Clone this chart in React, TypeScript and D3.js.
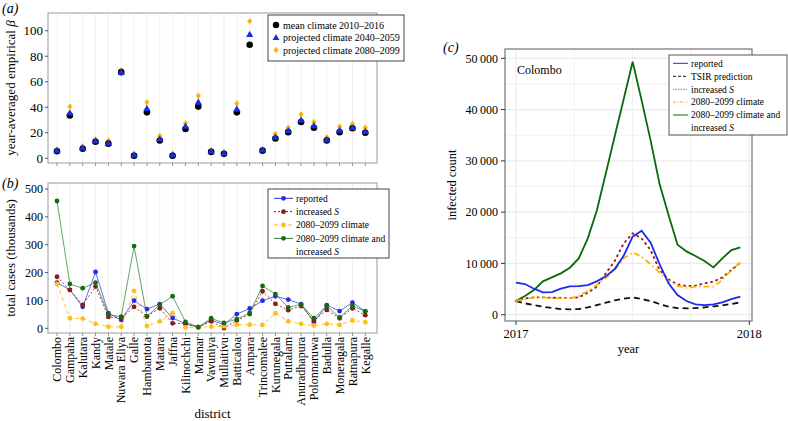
import React from "react";
import * as d3 from "d3";

const districts = ["Colombo","Gampaha","Kalutara","Kandy","Matale","Nuwara Eliya","Galle","Hambantota","Matara","Jaffna","Kilinochchi","Mannar","Vavuniya","Mullaitivu","Batticaloa","Ampara","Trincomalee","Kurunegala","Puttalam","Anuradhapura","Polonnaruwa","Badulla","Moneragala","Ratnapura","Kegalle"];

// panel (a): year-averaged empirical beta
const betaMean = [5.5,33.5,7.5,13,11.5,67.5,2,36,14,2,23,40.5,5,3.5,36,89,6,15.5,20.5,28.5,24,14,20.5,23.5,20];
const beta2040 = [6,35.5,8,13.5,12,67.5,2.5,39,15,2.5,25,44,5.5,4,38.5,97,6.5,16.5,21.5,30,25.5,14.5,22,24,21];
const beta2080 = [7,40.5,9.5,15,14,69,3.5,44,17.5,3.5,27.5,49,6,4.5,43,107.5,7,19,24,34.5,28.5,16.5,25,27,24];

// panel (b): total cases (thousands)
const casesReported = [164,138,77,202,54,30,99,69,87,37,16,4,30,13,51,71,99,115,103,87,22,83,62,92,61];
const casesIncS = [185,138,84,150,41,36,77,43,72,18,16,4,25,1,28,51,133,88,65,80,28,66,36,72,47];
const cases2080 = [159,36,35,16,6,5,134,8,25,54,3,4,6,7,13,13,12,54,25,16,10,16,12,28,22];
const cases2080S = [457,159,144,164,49,42,295,42,85,115,23,4,36,19,33,55,152,123,75,86,36,80,39,80,61];

// panel (c): Colombo, biweekly 2017
const weeks = d3.range(26).map((i) => 2017 + i / 26);
const cReported = [6240,5980,5070,4355,4420,5070,5525,5590,5785,6500,7475,8900,11500,15210,16380,14040,9880,6110,3835,2665,2015,1885,2015,2405,3055,3510];
const cTSIR = [2665,2210,1885,1560,1300,1105,1040,1105,1430,1885,2340,2795,3120,3380,3055,2665,2080,1560,1300,1235,1300,1430,1625,1820,2080,2405];
const cIncS = [2665,3185,3380,3380,3315,3315,3250,3380,4290,5460,8060,10465,13910,15860,14885,12610,8710,6890,5915,5590,5655,6110,6435,7280,8710,10140];
const c2080 = [2665,3055,3380,3380,3250,3185,3250,3640,4615,5785,7150,8710,10985,12155,11310,9880,8190,6630,5590,5265,5460,5460,5460,6760,8710,10205];
const c2080S = [2665,3640,4800,6500,7280,8060,9165,10985,14885,20280,27500,34800,42000,49335,41800,34000,25500,19435,13650,12350,11440,10465,9230,10985,12610,13130];

const betaTicks = [0,20,40,60,80,100];
const casesTicks = [0,100,200,300,400,500];
const countTicks = [0,10000,20000,30000,40000,50000];
const yearTicks = [2017,2018];

const FONT = "'Liberation Serif', 'DejaVu Serif', serif";
const BLUE = "#1f2fe6";
const RED = "#8b1010";
const ORANGE = "#ffb300";
const GREEN = "#2a8a2a";
const DGREEN = "#0a6a0a";

const fmt = (v: number) => (v >= 1000 ? d3.format(",")(v).replace(",", "\u2009") : String(v));

function Diamond({ x, y, r, fill }: { x: number; y: number; r: number; fill: string }) {
  return <path d={`M${x},${y - r}L${x + r * 0.8},${y}L${x},${y + r}L${x - r * 0.8},${y}Z`} fill={fill} />;
}

function Tri({ x, y, r, fill }: { x: number; y: number; r: number; fill: string }) {
  return <path d={`M${x},${y - r}L${x + r * 0.95},${y + r * 0.65}L${x - r * 0.95},${y + r * 0.65}Z`} fill={fill} />;
}

export default function App() {
  const xA = d3.scalePoint<string>().domain(districts).range([57, 365.3]);
  const yA = d3.scaleLinear().domain([0, 100]).range([158.3, 30.7]);
  const yB = d3.scaleLinear().domain([0, 500]).range([328.3, 189]);
  const xC = d3.scaleLinear().domain([2017, 2018]).range([516, 749.3]);
  const yC = d3.scaleLinear().domain([0, 50000]).range([314.7, 58.3]);

  const lineB = (vals: number[]) =>
    d3.line<number>().x((_, i) => xA(districts[i])!).y((v) => yB(v))(vals)!;
  const lineC = (vals: number[]) =>
    d3.line<number>().x((_, i) => xC(weeks[i])).y((v) => yC(v)).curve(d3.curveLinear)(vals)!;

  const A = { l: 48, t: 13, r: 377, b: 163 };
  const B = { l: 48, t: 183, r: 377, b: 333 };
  const C = { l: 505, t: 49, r: 752, b: 321 };

  const bSeries = [
    { vals: casesReported, color: BLUE, dash: "", mk: "#1f2fe6", op: 0.7 },
    { vals: casesIncS, color: RED, dash: "2,2", mk: "#8b1a1a", op: 0.8 },
    { vals: cases2080, color: ORANGE, dash: "4,3", mk: "#ffbf1a", op: 0.8 },
    { vals: cases2080S, color: GREEN, dash: "", mk: "#136b13", op: 0.75 },
  ];

  const minorC = d3.range(0, 52000, 5000);
  const quartersC = [2017, 2017.25, 2017.5, 2017.75, 2018];

  return (
    <svg width={788} height={421} style={{ display: "block", position: "absolute", left: 0, top: 0 }} fontFamily={FONT}>
      <rect width={788} height={421} fill="#fff" />

      {/* ---------- Panel (a) ---------- */}
      <text x={2} y={13} fontSize={14} fontStyle="italic">(a)</text>
      {districts.map((d) => (
        <line key={"ga" + d} x1={xA(d)} x2={xA(d)} y1={A.t} y2={A.b} stroke="#ececec" strokeWidth={0.8} />
      ))}
      <rect x={A.l} y={A.t} width={A.r - A.l} height={A.b - A.t} fill="none" stroke="#9a9a9a" strokeWidth={1} />
      {betaTicks.map((t) => (
        <g key={"ta" + t}>
          <line x1={A.l - 3} x2={A.l} y1={yA(t)} y2={yA(t)} stroke="#555" />
          <text x={A.l - 5} y={yA(t)} dy="0.35em" textAnchor="end" fontSize={13}>{t}</text>
        </g>
      ))}
      {districts.map((d) => (
        <line key={"tka" + d} x1={xA(d)} x2={xA(d)} y1={A.b} y2={A.b + 3} stroke="#777" strokeWidth={0.8} />
      ))}
      <text transform={`translate(15,${(A.t + A.b) / 2}) rotate(-90)`} textAnchor="middle" fontSize={13}>
        year-averaged empirical <tspan fontStyle="italic">β</tspan>
      </text>
      {districts.map((d, i) => (
        <g key={"pa" + d}>
          <Diamond x={xA(d)!} y={yA(beta2080[i])} r={3.2} fill={ORANGE} />
          <circle cx={xA(d)} cy={yA(betaMean[i])} r={3.3} fill="#000" />
          <Tri x={xA(d)!} y={yA(beta2040[i])} r={3.8} fill="#1a2ee0" />
        </g>
      ))}
      {/* legend a */}
      <rect x={268} y={15} width={136} height={46} fill="#fff" stroke="#444" strokeWidth={1} />
      <circle cx={276} cy={25} r={3.2} fill="#000" />
      <text x={283} y={25} dy="0.35em" fontSize={10}>mean climate 2010–2016</text>
      <Tri x={276} y={37.7} r={3.6} fill="#1a2ee0" />
      <text x={283} y={37.7} dy="0.35em" fontSize={10}>projected climate 2040–2059</text>
      <Diamond x={276} y={50} r={3.2} fill={ORANGE} />
      <text x={283} y={50} dy="0.35em" fontSize={10}>projected climate 2080–2099</text>

      {/* ---------- Panel (b) ---------- */}
      <text x={2} y={188} fontSize={14} fontStyle="italic">(b)</text>
      {districts.map((d) => (
        <line key={"gb" + d} x1={xA(d)} x2={xA(d)} y1={B.t} y2={B.b} stroke="#ececec" strokeWidth={0.8} />
      ))}
      <rect x={B.l} y={B.t} width={B.r - B.l} height={B.b - B.t} fill="none" stroke="#9a9a9a" strokeWidth={1} />
      {casesTicks.map((t) => (
        <g key={"tb" + t}>
          <line x1={B.l - 3} x2={B.l} y1={yB(t)} y2={yB(t)} stroke="#555" />
          <text x={B.l - 5} y={yB(t)} dy="0.35em" textAnchor="end" fontSize={12}>{t}</text>
        </g>
      ))}
      {districts.map((d) => (
        <g key={"tkb" + d}>
          <line x1={xA(d)} x2={xA(d)} y1={B.b} y2={B.b + 3} stroke="#777" strokeWidth={0.8} />
          <text transform={`translate(${xA(d)},${B.b + 4}) rotate(-90)`} textAnchor="end" dy="0.35em" fontSize={12}>{d}</text>
        </g>
      ))}
      <text transform={`translate(15,${(B.t + B.b) / 2}) rotate(-90)`} textAnchor="middle" fontSize={13}>total cases (thousands)</text>
      <text x={(B.l + B.r) / 2} y={418} textAnchor="middle" fontSize={13}>district</text>
      {bSeries.map((s, k) => (
        <g key={"sb" + k}>
          <path d={lineB(s.vals)} fill="none" stroke={s.color} strokeWidth={1} strokeDasharray={s.dash} opacity={s.op} />
          {s.vals.map((v, i) => (
            <circle key={i} cx={xA(districts[i])} cy={yB(v)} r={2.4} fill={s.mk} />
          ))}
        </g>
      ))}
      {/* legend b */}
      <rect x={268} y={189} width={121} height={69} fill="#fff" stroke="#444" strokeWidth={1} />
      {bSeries.map((s, k) => {
        const y = 198.3 + k * 13.35;
        return (
          <g key={"lb" + k}>
            <line x1={274} x2={293} y1={y} y2={y} stroke={s.color} strokeWidth={1} strokeDasharray={s.dash} />
            <circle cx={283.5} cy={y} r={2.4} fill={s.mk} />
          </g>
        );
      })}
      <text x={296} y={198.3} dy="0.35em" fontSize={9.5}>reported</text>
      <text x={296} y={211.7} dy="0.35em" fontSize={9.5}>increased <tspan fontStyle="italic">S</tspan></text>
      <text x={296} y={225} dy="0.35em" fontSize={9.5}>2080–2099 climate</text>
      <text x={296} y={238.3} dy="0.35em" fontSize={9.5}>2080–2099 climate and</text>
      <text x={296} y={251.7} dy="0.35em" fontSize={9.5}>increased <tspan fontStyle="italic">S</tspan></text>

      {/* ---------- Panel (c) ---------- */}
      <text x={443} y={52} fontSize={14} fontStyle="italic">(c)</text>
      {minorC.map((t) => (
        <line key={"gc" + t} x1={C.l} x2={C.r} y1={yC(t)} y2={yC(t)} stroke="#ebebeb" strokeWidth={t % 10000 === 0 ? 1.2 : 0.7} />
      ))}
      {quartersC.map((t) => (
        <line key={"gq" + t} x1={xC(t)} x2={xC(t)} y1={C.t} y2={C.b} stroke="#ebebeb" strokeWidth={Number.isInteger(t) ? 1.2 : 0.8} />
      ))}
      <rect x={C.l} y={C.t} width={C.r - C.l} height={C.b - C.t} fill="none" stroke="#7f7f7f" strokeWidth={1.3} />
      {countTicks.map((t) => (
        <g key={"tc" + t}>
          <line x1={C.l - 4} x2={C.l} y1={yC(t)} y2={yC(t)} stroke="#333" />
          <text x={C.l - 7} y={yC(t)} dy="0.35em" textAnchor="end" fontSize={12}>{fmt(t)}</text>
        </g>
      ))}
      {yearTicks.map((t) => (
        <g key={"ty" + t}>
          <line x1={xC(t)} x2={xC(t)} y1={C.b} y2={C.b + 4} stroke="#333" />
          <text x={xC(t)} y={C.b + 17} textAnchor="middle" fontSize={12.5}>{t}</text>
        </g>
      ))}
      <text x={(C.l + C.r) / 2} y={353} textAnchor="middle" fontSize={12.5}>year</text>
      <text transform={`translate(456,${(C.t + C.b) / 2}) rotate(-90)`} textAnchor="middle" fontSize={12.5}>infected count</text>
      <text x={517} y={74} fontSize={12}>Colombo</text>

      <path d={lineC(c2080S)} fill="none" stroke={DGREEN} strokeWidth={1.8} />
      <path d={lineC(cTSIR)} fill="none" stroke="#111" strokeWidth={1.8} strokeDasharray="6,4" />
      <path d={lineC(cIncS)} fill="none" stroke="#a01818" strokeWidth={1.9} strokeDasharray="1,4.5" strokeLinecap="round" />
      <path d={lineC(c2080)} fill="none" stroke={ORANGE} strokeWidth={1.8} strokeDasharray="6,3,1.5,3" />
      <path d={lineC(cReported)} fill="none" stroke="#1a2ee8" strokeWidth={1.8} />

      {/* legend c */}
      <rect x={669} y={55} width={118} height={80} fill="#fff" stroke="#444" strokeWidth={0.9} />
      <line x1={673} x2={688} y1={63.3} y2={63.3} stroke="#1a2ee8" strokeWidth={1} />
      <line x1={673} x2={688} y1={76.3} y2={76.3} stroke="#111" strokeWidth={1} strokeDasharray="3,2" />
      <line x1={673} x2={688} y1={89.3} y2={89.3} stroke="#c03030" strokeWidth={0.8} strokeDasharray="1.5,1" />
      <line x1={673} x2={688} y1={102} y2={102} stroke={ORANGE} strokeWidth={1} strokeDasharray="3,1.5,1,1.5" />
      <line x1={673} x2={688} y1={115} y2={115} stroke={DGREEN} strokeWidth={1} />
      <text x={691} y={63.3} dy="0.35em" fontSize={9.5}>reported</text>
      <text x={691} y={76.3} dy="0.35em" fontSize={9.5}>TSIR prediction</text>
      <text x={691} y={89.3} dy="0.35em" fontSize={9.5}>increased <tspan fontStyle="italic">S</tspan></text>
      <text x={691} y={102} dy="0.35em" fontSize={9.5}>2080–2099 climate</text>
      <text x={691} y={115} dy="0.35em" fontSize={9.5}>2080–2099 climate and</text>
      <text x={691} y={127.7} dy="0.35em" fontSize={9.5}>increased <tspan fontStyle="italic">S</tspan></text>
    </svg>
  );
}
